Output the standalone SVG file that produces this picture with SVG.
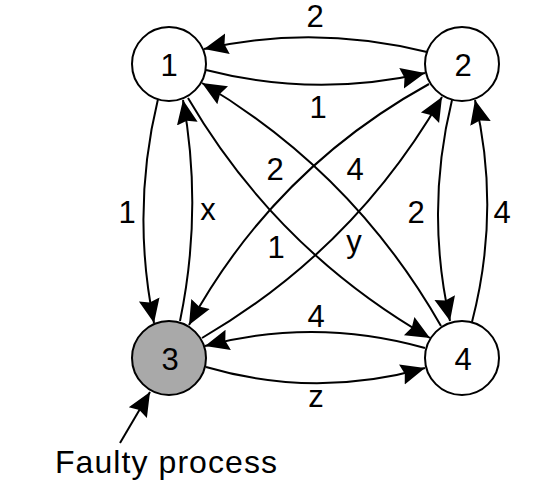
<svg xmlns="http://www.w3.org/2000/svg" width="546" height="490" viewBox="0 0 546 490">
<style>
.node{stroke:#000;stroke-width:2;fill:#fff}
.faulty{fill:#a9a9a9}
.edge{fill:none;stroke:#000;stroke-width:2;marker-end:url(#ah)}
text{font-family:"Liberation Sans",Arial,Helvetica,sans-serif;font-size:31px;fill:#000;text-anchor:middle}
.big{font-size:32px}
</style>
<defs>
<marker id="ah" markerUnits="userSpaceOnUse" markerWidth="26" markerHeight="24" refX="24" refY="0" viewBox="0 -12 26 24" orient="auto">
<path d="M0,-10.5 L24,0 L0,10.5 L3,0 Z" fill="#000"/>
</marker>
</defs>
<rect width="546" height="490" fill="#fff"/>
<g id="connectors">
<path class="edge" d="M427,52 Q314,24 204,49"/>
<path class="edge" d="M206,70 Q315,98 425,73"/>
<path class="edge" d="M425,348 Q315,317 205,346"/>
<path class="edge" d="M206,367 Q315,399 425,368"/>
<path class="edge" d="M158,99 Q131,210 154,323"/>
<path class="edge" d="M180,321 Q203,210 183,100"/>
<path class="edge" d="M452,100 Q425,210 450,321"/>
<path class="edge" d="M472,322 Q501,210 475,100"/>
<path class="edge" d="M188,98 Q277,250 430,338"/>
<path class="edge" d="M441,326 Q353.5,172.5 202,83"/>
<path class="edge" d="M429,84 Q274,169.5 189,325"/>
<path class="edge" d="M202,338 Q354,249.5 442,97"/>
<path class="edge" d="M120,443 L150,392"/>
</g>
<g id="edge-labels">
<text x="315" y="27">2</text>
<text x="318" y="118">1</text>
<text x="127" y="223">1</text>
<text x="208" y="220">x</text>
<text x="275" y="180">2</text>
<text x="355" y="180">4</text>
<text x="276" y="258">1</text>
<text x="354" y="252">y</text>
<text x="416" y="223">2</text>
<text x="502" y="223">4</text>
<text x="316" y="327">4</text>
<text x="316" y="407">z</text>
</g>
<g id="node1"><circle class="node" cx="169" cy="64" r="37"/><text x="169" y="75.5">1</text></g>
<g id="node2"><circle class="node" cx="462" cy="64" r="37"/><text x="463" y="75.5">2</text></g>
<g id="node3"><circle class="node faulty" cx="169" cy="358" r="37"/><text x="170" y="369.5">3</text></g>
<g id="node4"><circle class="node" cx="462" cy="358" r="37"/><text x="463" y="369.5">4</text></g>
<g id="faulty-label"><text class="big" x="166" y="473" textLength="222" lengthAdjust="spacing">Faulty process</text></g>
</svg>
